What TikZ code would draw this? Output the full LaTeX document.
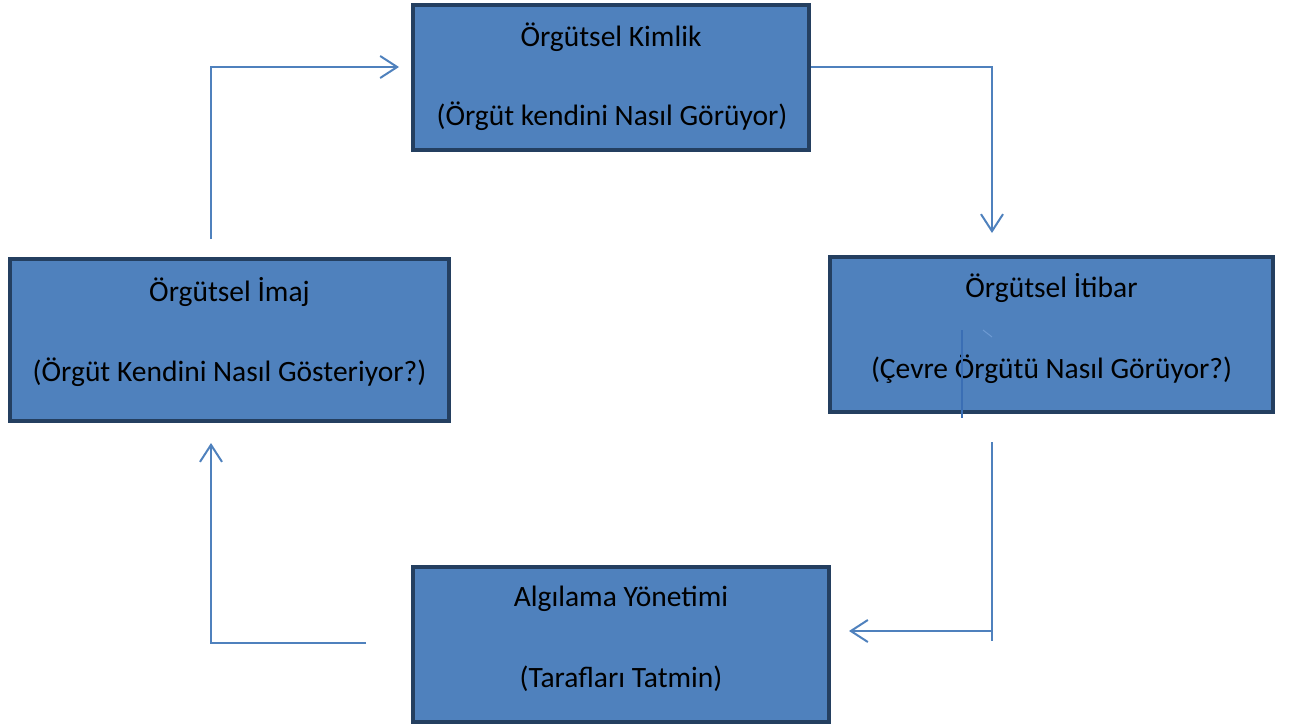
\documentclass[tikz,border=0pt]{standalone}
\usepackage{fontspec}
\setmainfont{Carlito}
\usetikzlibrary{arrows.meta}
\definecolor{boxfill}{HTML}{4F81BD}
\definecolor{boxline}{HTML}{243F60}
\definecolor{flow}{HTML}{4F81BD}
\definecolor{stray}{HTML}{3A6EB4}
\definecolor{tick}{HTML}{6E9AD2}
\begin{document}
\begin{tikzpicture}[x=1pt,y=-1pt,
  box/.style={draw=boxline,line width=4pt,fill=boxfill,inner sep=0pt},
  txt/.style={font=\fontsize{29.5}{34}\selectfont,text=black,inner sep=0pt},
  flowline/.style={draw=flow,line width=2pt},
  flowarrow/.style={flowline,-{Straight Barb[length=17pt,width=22pt,line width=2pt]}}]
\useasboundingbox (0,0) rectangle (1293,728);
% the four boxes of the cycle
\node[box,minimum width=396pt,minimum height=145pt] (kimlik) at (611,77.5) {};
\node[box,minimum width=439pt,minimum height=162pt] (imaj) at (229.5,340) {};
\node[box,minimum width=443pt,minimum height=155pt] (itibar) at (1051.5,334.5) {};
\node[box,minimum width=416pt,minimum height=155pt] (algilama) at (621,644.5) {};
% box texts
\node[txt] (kimlik1) at (611,37) {Örgütsel Kimlik};
\node[txt] (kimlik2) at (612,116) {(Örgüt kendini Nasıl Görüyor)};
\node[txt] (imaj1) at (229.5,292) {Örgütsel İmaj};
\node[txt] (imaj2) at (229.5,372) {(Örgüt Kendini Nasıl Gösteriyor?)};
\node[txt] (itibar1) at (1051.5,288) {Örgütsel İtibar};
\node[txt] (itibar2) at (1051.5,369) {(Çevre Örgütü Nasıl Görüyor?)};
\node[txt] (algilama1) at (621,599) {Algılama Yönetimi};
\node[txt] (algilama2) at (621,679) {(Tarafları Tatmin)};
% free ends of the connectors
\coordinate (imajout) at (211,239);
\coordinate (kimlikin) at (399,67);
\coordinate (itibarin) at (992,233);
\coordinate (itibarout) at (992,442);
\coordinate (itibarend) at (992,641);
\coordinate (algcorner) at (992,631);
\coordinate (algin) at (849,631);
\coordinate (algout) at (366,643);
\coordinate (imajin) at (211,443);
% connectors
\draw[flowarrow] (imajout) |- (kimlikin);
\draw[flowarrow] (kimlik.east |- kimlikin) -| (itibarin);
\draw[flowline] (itibarout) -- (itibarend);
\draw[flowarrow] (algcorner) -- (algin);
\draw[flowarrow] (algout) -| (imajin);
% stray strokes over the right box
\coordinate (strayA) at (962,330);
\coordinate (strayB) at (962,418);
\coordinate (strayC) at (983,330);
\coordinate (strayD) at (992,337);
\draw[stray,line width=1.5pt] (strayA) -- (strayB);
\draw[tick,line width=1pt] (strayC) -- (strayD);
\end{tikzpicture}
\end{document}
